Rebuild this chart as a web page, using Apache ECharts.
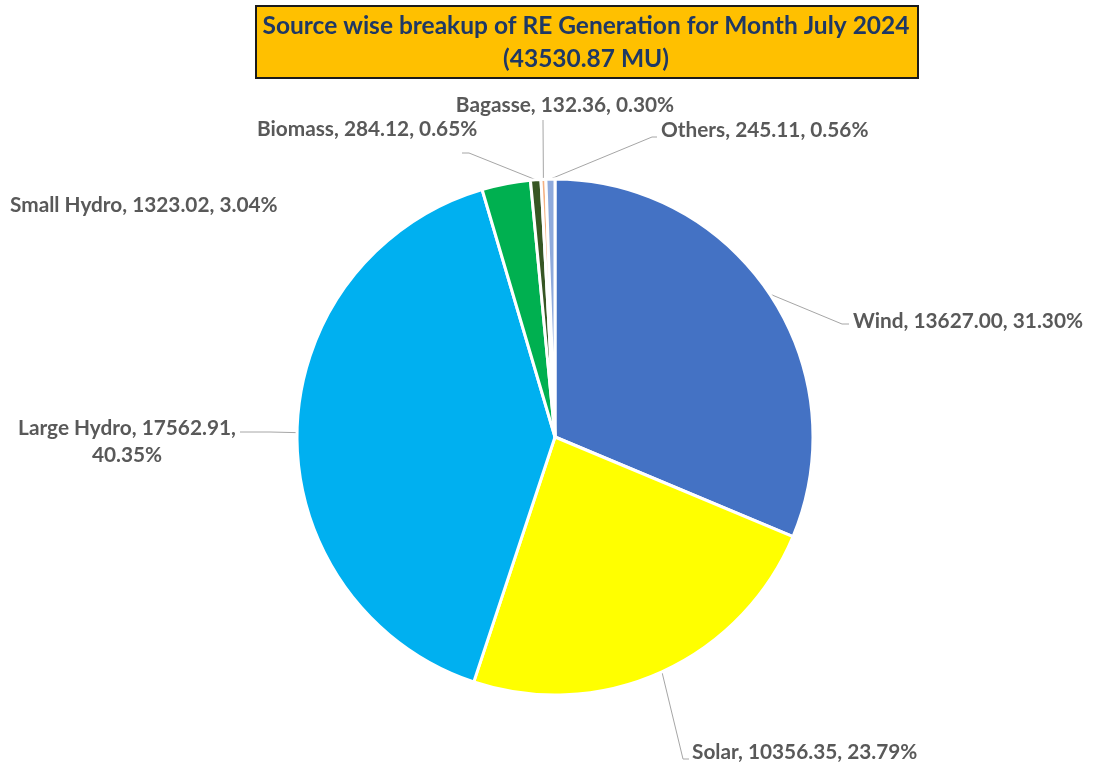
<!DOCTYPE html>
<html>
<head>
<meta charset="utf-8">
<script src="https://cdn.jsdelivr.net/npm/echarts@6/dist/echarts.min.js"></script>
<style>
  html, body { margin: 0; padding: 0; background: #ffffff; }
  #piechart { width: 1093px; height: 769px; }
</style>
</head>
<body>
<div id="piechart"></div>
<script>
// source data
var sources = ['Wind', 'Solar', 'Large Hydro', 'Small Hydro', 'Biomass', 'Bagasse', 'Others'];
var energyMU = [13627.00, 10356.35, 17562.91, 1323.02, 284.12, 132.36, 245.11];
var sharePct = ['31.30%', '23.79%', '40.35%', '3.04%', '0.65%', '0.30%', '0.56%'];
var sliceColors = ['#4472C4', '#FFFF00', '#00B0F0', '#00B050', '#375623', '#F4B183', '#8FAADC'];

var titleLines = ['Source wise breakup of RE Generation for Month July 2024', '(43530.87 MU)'];

// where each label sits (Excel style placement), and where its leader line bends
var labelSpots = {
    'Wind':        { x: 853, y: 321, align: 'left',   bend: [[842, 324], [849, 324]] },
    'Solar':       { x: 692, y: 752, align: 'left',   bend: [[683, 759], [689, 759]] },
    'Large Hydro': { x: 127, y: 442, align: 'center', bend: [[270, 432], [240, 432]] },
    'Small Hydro': { x: 10,  y: 205, align: 'left',   bend: null },
    'Biomass':     { x: 257, y: 129, align: 'left',   bend: [[469, 153], [462, 153]] },
    'Bagasse':     { x: 565, y: 105, align: 'center', bend: [[543, 122], [543, 120]] },
    'Others':      { x: 661, y: 130, align: 'left',   bend: [[652, 137], [657, 137]] }
};

function drawPie() {
    var piechart = echarts.init(document.getElementById('piechart'));

    var pieData = [];
    for (var i = 0; i < sources.length; i++) {
        pieData.push({
            name: sources[i],
            value: energyMU[i],
            pct: sharePct[i],
            itemStyle: { color: sliceColors[i] },
            labelLine: { show: labelSpots[sources[i]].bend !== null }
        });
    }

    var option = {
        backgroundColor: '#ffffff',
        animation: false,
        // orange title box
        graphic: [
            {
                type: 'rect',
                left: 255,
                top: 5,
                shape: { width: 662, height: 72 },
                style: { fill: '#FFC000', stroke: '#1a1a1a', lineWidth: 2 },
                z: 10
            },
            {
                type: 'text',
                x: 586,
                y: 43,
                style: {
                    text: titleLines.join('\n'),
                    fill: '#1F3864',
                    font: 'bold 24.5px Lato',
                    lineHeight: 33,
                    align: 'center',
                    verticalAlign: 'middle'
                },
                z: 11
            }
        ],
        series: [
            {
                name: 'RE Generation',
                type: 'pie',
                center: [555, 437],
                radius: 258,
                startAngle: 90,
                clockwise: true,
                avoidLabelOverlap: false,
                data: pieData,
                itemStyle: {
                    borderColor: '#ffffff',
                    borderWidth: 3
                },
                label: {
                    show: true,
                    position: 'outside',
                    fontFamily: 'Lato',
                    fontWeight: 'bold',
                    fontSize: 20.8,
                    lineHeight: 27,
                    color: '#595959',
                    formatter: function (p) {
                        var v = p.value.toFixed(2);
                        if (p.name === 'Large Hydro') {
                            return p.name + ', ' + v + ',\n' + p.data.pct;
                        }
                        return p.name + ', ' + v + ', ' + p.data.pct;
                    }
                },
                labelLine: {
                    show: true,
                    length: 20,
                    length2: 10,
                    lineStyle: { color: '#A6A6A6', width: 1 }
                },
                labelLayout: function (params) {
                    var spot = labelSpots[sources[params.dataIndex]];
                    var out = {
                        x: spot.x,
                        y: spot.y,
                        align: spot.align,
                        verticalAlign: 'middle'
                    };
                    if (spot.bend && params.labelLinePoints) {
                        var start = params.labelLinePoints[0];
                        out.labelLinePoints = [[start[0], start[1]], spot.bend[0], spot.bend[1]];
                    }
                    return out;
                }
            }
        ]
    };
    piechart.setOption(option);
}

drawPie();
</script>
</body>
</html>
